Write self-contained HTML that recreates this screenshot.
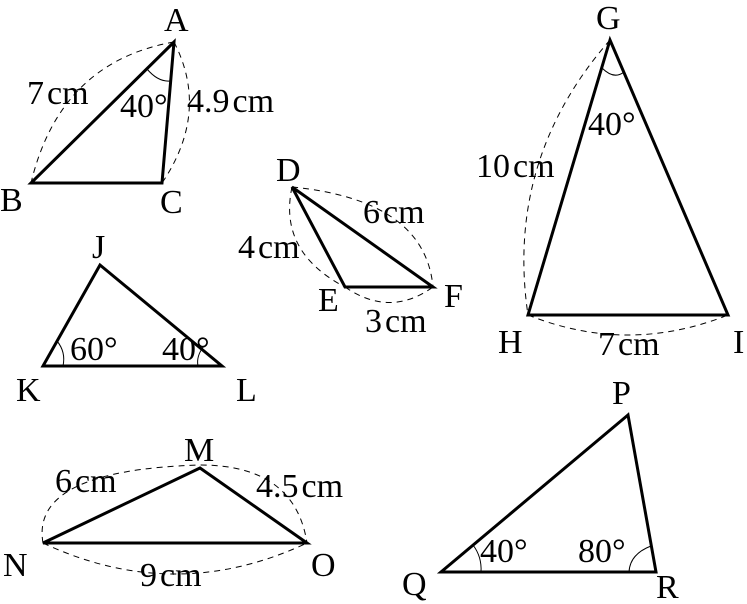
<!DOCTYPE html>
<html><head><meta charset="utf-8"><style>
html,body{margin:0;padding:0;background:#fff}
svg{display:block}
text{font-family:"Liberation Serif",serif;font-size:34px;fill:#000}
.t{fill:none;stroke:#000;stroke-width:3;stroke-linejoin:miter}
.d{fill:none;stroke:#000;stroke-width:1;stroke-dasharray:6,5}
.a{fill:none;stroke:#000;stroke-width:1}
</style></head><body>
<svg width="747" height="604" viewBox="0 0 747 604">
<!-- ABC -->
<polygon class="t" points="174,42 31,183 162,183"/>
<path class="d" d="M174,42 Q60,62 31,183"/>
<path class="d" d="M174,42 Q210,112 162,183"/>
<path class="a" d="M147,69 Q158,82 170,81"/>
<text x="164" y="31">A</text><text x="0" y="211">B</text><text x="160" y="213">C</text>
<text x="27" y="104">7<tspan dx="3">cm</tspan></text>
<text x="120" y="117">40°</text>
<text x="187" y="112">4.9<tspan dx="3">cm</tspan></text>
<!-- DEF -->
<polygon class="t" points="292,187 345,287 433,287"/>
<path class="d" d="M292,187 Q278,252 345,287"/>
<path class="d" d="M292,187 Q425,200 433,287"/>
<path class="d" d="M345,287 Q390,318 433,287"/>
<text x="276" y="181">D</text><text x="318" y="311">E</text><text x="444" y="307">F</text>
<text x="238" y="258">4<tspan dx="3">cm</tspan></text>
<text x="363" y="223">6<tspan dx="3">cm</tspan></text>
<text x="365" y="332">3<tspan dx="3">cm</tspan></text>
<!-- GHI -->
<polygon class="t" points="610,40 528,315 728,315"/>
<path class="d" d="M610,40 Q505,160 528,315"/>
<path class="d" d="M528,315 Q628,355 728,315"/>
<path class="a" d="M602,68 Q614,80 624,72"/>
<text x="596" y="29">G</text><text x="498" y="353">H</text><text x="733" y="353">I</text>
<text x="476" y="177">10<tspan dx="3">cm</tspan></text>
<text x="588" y="135">40°</text>
<text x="598" y="355">7<tspan dx="3">cm</tspan></text>
<!-- JKL -->
<polygon class="t" points="100,265 43,366 222,366"/>
<path class="a" d="M57,341 Q66,352 63,366"/>
<path class="a" d="M204,346 Q196,356 198,366"/>
<text x="92" y="258">J</text><text x="16" y="401">K</text><text x="236" y="401">L</text>
<text x="70" y="360">60°</text>
<text x="162" y="360">40°</text>
<!-- MNO -->
<polygon class="t" points="200,468 43,543 307,543"/>
<path class="d" d="M43,543 Q30,470 200,465 Q295,465 307,543"/>
<path class="d" d="M43,543 Q175,605 307,543"/>
<text x="184" y="461">M</text><text x="3" y="576">N</text><text x="311" y="576">O</text>
<text x="55" y="492">6<tspan dx="3">cm</tspan></text>
<text x="256" y="497">4.5<tspan dx="3">cm</tspan></text>
<text x="140" y="586">9<tspan dx="3">cm</tspan></text>
<!-- PQR -->
<polygon class="t" points="628,415 441,572 656,572"/>
<path class="a" d="M473,545 Q482,557 481,572"/>
<path class="a" d="M629,572 Q630,554 651,546"/>
<text x="612" y="404">P</text><text x="402" y="595">Q</text><text x="656" y="598">R</text>
<text x="480" y="562">40°</text>
<text x="578" y="562">80°</text>
</svg>
</body></html>
